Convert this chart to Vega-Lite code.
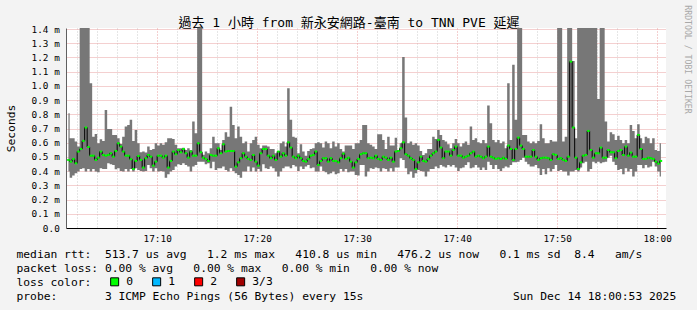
{
"$schema": "https://vega.github.io/schema/vega-lite/v6.json",
"width": 600, "height": 200,
"autosize": "none",
"padding": {"left": 66, "top": 28, "right": 31, "bottom": 82},
"background": "#f3f3f3",
"config": {"view": {"fill": "white", "stroke": null}, "font": "DejaVu Sans Mono"},
"data": {"values": [
{"sec":67.5,"hi":0.808,"lo":0.397,"med":0.479},{"sec":82.5,"hi":0.631,"lo":0.354,"med":0.467},{"sec":97.5,"hi":0.631,"lo":0.369,"med":0.486},{"sec":112.5,"hi":0.608,"lo":0.385,"med":0.455},{"sec":127.5,"hi":0.573,"lo":0.397,"med":0.538},{"sec":142.5,"hi":2.0,"lo":0.415,"med":0.556},{"sec":157.5,"hi":2.0,"lo":0.42,"med":0.613},{"sec":172.5,"hi":2.0,"lo":0.397,"med":0.707},{"sec":187.5,"hi":2.0,"lo":0.415,"med":0.57},{"sec":202.5,"hi":1.019,"lo":0.397,"med":0.509},
{"sec":217.5,"hi":0.643,"lo":0.415,"med":0.509},{"sec":232.5,"hi":0.662,"lo":0.397,"med":0.479},{"sec":247.5,"hi":0.596,"lo":0.392,"med":0.495},{"sec":262.5,"hi":0.624,"lo":0.42,"med":0.538},{"sec":277.5,"hi":0.613,"lo":0.415,"med":0.514},{"sec":292.5,"hi":0.831,"lo":0.415,"med":0.509},{"sec":307.5,"hi":0.697,"lo":0.455,"med":0.514},{"sec":322.5,"hi":0.697,"lo":0.448,"med":0.526},{"sec":337.5,"hi":0.655,"lo":0.444,"med":0.502},{"sec":352.5,"hi":0.655,"lo":0.413,"med":0.542},
{"sec":367.5,"hi":0.631,"lo":0.42,"med":0.596},{"sec":382.5,"hi":0.592,"lo":0.401,"med":0.573},{"sec":397.5,"hi":0.643,"lo":0.397,"med":0.538},{"sec":412.5,"hi":0.714,"lo":0.415,"med":0.509},{"sec":427.5,"hi":0.725,"lo":0.397,"med":0.509},{"sec":442.5,"hi":0.761,"lo":0.415,"med":0.484},{"sec":457.5,"hi":0.613,"lo":0.397,"med":0.415},{"sec":472.5,"hi":0.69,"lo":0.42,"med":0.472},{"sec":487.5,"hi":0.596,"lo":0.408,"med":0.507},{"sec":502.5,"hi":0.533,"lo":0.401,"med":0.479},
{"sec":517.5,"hi":0.538,"lo":0.397,"med":0.425},{"sec":532.5,"hi":0.531,"lo":0.401,"med":0.491},{"sec":547.5,"hi":0.573,"lo":0.444,"med":0.514},{"sec":562.5,"hi":0.549,"lo":0.42,"med":0.502},{"sec":577.5,"hi":0.556,"lo":0.397,"med":0.439},{"sec":592.5,"hi":0.596,"lo":0.42,"med":0.467},{"sec":607.5,"hi":0.58,"lo":0.397,"med":0.509},{"sec":622.5,"hi":0.596,"lo":0.401,"med":0.509},{"sec":637.5,"hi":0.585,"lo":0.397,"med":0.495},{"sec":652.5,"hi":0.603,"lo":0.354,"med":0.509},
{"sec":667.5,"hi":0.631,"lo":0.378,"med":0.425},{"sec":682.5,"hi":0.631,"lo":0.397,"med":0.472},{"sec":697.5,"hi":0.627,"lo":0.408,"med":0.538},{"sec":712.5,"hi":0.585,"lo":0.432,"med":0.519},{"sec":727.5,"hi":0.561,"lo":0.448,"med":0.549},{"sec":742.5,"hi":0.561,"lo":0.444,"med":0.533},{"sec":757.5,"hi":0.565,"lo":0.455,"med":0.556},{"sec":772.5,"hi":0.549,"lo":0.444,"med":0.526},{"sec":787.5,"hi":0.561,"lo":0.432,"med":0.495},{"sec":802.5,"hi":0.549,"lo":0.397,"med":0.538},
{"sec":817.5,"hi":0.749,"lo":0.432,"med":0.509},{"sec":832.5,"hi":0.667,"lo":0.444,"med":0.509},{"sec":847.5,"hi":2.0,"lo":0.467,"med":0.596},{"sec":862.5,"hi":2.0,"lo":0.467,"med":0.533},{"sec":877.5,"hi":0.515,"lo":0.467,"med":0.495},{"sec":892.5,"hi":0.538,"lo":0.448,"med":0.486},{"sec":907.5,"hi":0.526,"lo":0.455,"med":0.472},{"sec":922.5,"hi":0.561,"lo":0.42,"med":0.514},{"sec":937.5,"hi":0.643,"lo":0.467,"med":0.509},{"sec":952.5,"hi":0.596,"lo":0.408,"med":0.509},
{"sec":967.5,"hi":0.596,"lo":0.42,"med":0.561},{"sec":982.5,"hi":0.549,"lo":0.42,"med":0.526},{"sec":997.5,"hi":0.62,"lo":0.432,"med":0.589},{"sec":1012.5,"hi":0.674,"lo":0.408,"med":0.538},{"sec":1027.5,"hi":0.643,"lo":0.397,"med":0.542},{"sec":1042.5,"hi":0.854,"lo":0.42,"med":0.542},{"sec":1057.5,"hi":0.725,"lo":0.401,"med":0.542},{"sec":1072.5,"hi":0.631,"lo":0.385,"med":0.432},{"sec":1087.5,"hi":0.714,"lo":0.373,"med":0.462},{"sec":1102.5,"hi":0.643,"lo":0.354,"med":0.491},
{"sec":1117.5,"hi":0.596,"lo":0.397,"med":0.526},{"sec":1132.5,"hi":0.608,"lo":0.397,"med":0.502},{"sec":1147.5,"hi":0.538,"lo":0.432,"med":0.486},{"sec":1162.5,"hi":0.596,"lo":0.397,"med":0.479},{"sec":1177.5,"hi":0.62,"lo":0.425,"med":0.514},{"sec":1192.5,"hi":0.643,"lo":0.397,"med":0.467},{"sec":1207.5,"hi":0.585,"lo":0.415,"med":0.439},{"sec":1222.5,"hi":0.561,"lo":0.397,"med":0.526},{"sec":1237.5,"hi":0.58,"lo":0.448,"med":0.556},{"sec":1252.5,"hi":0.58,"lo":0.42,"med":0.556},
{"sec":1267.5,"hi":0.573,"lo":0.415,"med":0.509},{"sec":1282.5,"hi":0.556,"lo":0.432,"med":0.491},{"sec":1297.5,"hi":0.556,"lo":0.42,"med":0.509},{"sec":1312.5,"hi":0.526,"lo":0.397,"med":0.479},{"sec":1327.5,"hi":0.542,"lo":0.362,"med":0.538},{"sec":1342.5,"hi":0.596,"lo":0.397,"med":0.502},{"sec":1357.5,"hi":0.608,"lo":0.42,"med":0.526},{"sec":1372.5,"hi":0.573,"lo":0.432,"med":0.509},{"sec":1387.5,"hi":0.984,"lo":0.432,"med":0.603},{"sec":1402.5,"hi":0.761,"lo":0.42,"med":0.566},
{"sec":1417.5,"hi":0.643,"lo":0.444,"med":0.502},{"sec":1432.5,"hi":0.636,"lo":0.432,"med":0.491},{"sec":1447.5,"hi":0.526,"lo":0.401,"med":0.509},{"sec":1462.5,"hi":0.589,"lo":0.432,"med":0.491},{"sec":1477.5,"hi":0.538,"lo":0.415,"med":0.472},{"sec":1492.5,"hi":0.509,"lo":0.432,"med":0.467},{"sec":1507.5,"hi":0.542,"lo":0.444,"med":0.486},{"sec":1522.5,"hi":0.556,"lo":0.42,"med":0.509},{"sec":1537.5,"hi":0.561,"lo":0.425,"med":0.514},{"sec":1552.5,"hi":0.596,"lo":0.397,"med":0.538},
{"sec":1567.5,"hi":0.603,"lo":0.397,"med":0.444},{"sec":1582.5,"hi":0.596,"lo":0.432,"med":0.472},{"sec":1597.5,"hi":0.566,"lo":0.401,"med":0.491},{"sec":1612.5,"hi":0.608,"lo":0.392,"med":0.491},{"sec":1627.5,"hi":0.596,"lo":0.378,"med":0.467},{"sec":1642.5,"hi":0.561,"lo":0.385,"med":0.491},{"sec":1657.5,"hi":0.608,"lo":0.397,"med":0.472},{"sec":1672.5,"hi":0.573,"lo":0.378,"med":0.472},{"sec":1687.5,"hi":0.596,"lo":0.385,"med":0.462},{"sec":1702.5,"hi":0.556,"lo":0.415,"med":0.491},
{"sec":1717.5,"hi":0.538,"lo":0.397,"med":0.523},{"sec":1732.5,"hi":0.58,"lo":0.415,"med":0.486},{"sec":1747.5,"hi":0.58,"lo":0.392,"med":0.495},{"sec":1762.5,"hi":0.58,"lo":0.397,"med":0.467},{"sec":1777.5,"hi":0.556,"lo":0.397,"med":0.425},{"sec":1792.5,"hi":0.596,"lo":0.373,"med":0.462},{"sec":1807.5,"hi":0.596,"lo":0.369,"med":0.486},{"sec":1822.5,"hi":0.62,"lo":0.444,"med":0.519},{"sec":1837.5,"hi":0.725,"lo":0.444,"med":0.526},{"sec":1852.5,"hi":0.725,"lo":0.362,"med":0.526},
{"sec":1867.5,"hi":0.596,"lo":0.397,"med":0.491},{"sec":1882.5,"hi":0.585,"lo":0.42,"med":0.495},{"sec":1897.5,"hi":0.573,"lo":0.415,"med":0.491},{"sec":1912.5,"hi":0.556,"lo":0.425,"med":0.509},{"sec":1927.5,"hi":0.66,"lo":0.42,"med":0.486},{"sec":1942.5,"hi":0.66,"lo":0.397,"med":0.479},{"sec":1957.5,"hi":0.62,"lo":0.42,"med":0.502},{"sec":1972.5,"hi":0.556,"lo":0.415,"med":0.495},{"sec":1987.5,"hi":0.643,"lo":0.397,"med":0.479},{"sec":2002.5,"hi":0.58,"lo":0.42,"med":0.495},
{"sec":2017.5,"hi":0.58,"lo":0.397,"med":0.467},{"sec":2032.5,"hi":0.636,"lo":0.425,"med":0.538},{"sec":2047.5,"hi":0.549,"lo":0.425,"med":0.542},{"sec":2062.5,"hi":0.596,"lo":0.491,"med":0.561},{"sec":2077.5,"hi":1.204,"lo":0.479,"med":0.603},{"sec":2092.5,"hi":0.777,"lo":0.42,"med":0.519},{"sec":2107.5,"hi":0.596,"lo":0.378,"med":0.509},{"sec":2122.5,"hi":0.608,"lo":0.397,"med":0.491},{"sec":2137.5,"hi":0.585,"lo":0.354,"med":0.479},{"sec":2152.5,"hi":0.596,"lo":0.385,"med":0.415},
{"sec":2167.5,"hi":0.58,"lo":0.408,"med":0.462},{"sec":2182.5,"hi":0.542,"lo":0.401,"med":0.502},{"sec":2197.5,"hi":0.514,"lo":0.397,"med":0.472},{"sec":2212.5,"hi":0.526,"lo":0.362,"med":0.467},{"sec":2227.5,"hi":0.556,"lo":0.397,"med":0.486},{"sec":2242.5,"hi":0.556,"lo":0.415,"med":0.509},{"sec":2257.5,"hi":0.643,"lo":0.415,"med":0.526},{"sec":2272.5,"hi":0.627,"lo":0.432,"med":0.538},{"sec":2287.5,"hi":0.69,"lo":0.42,"med":0.62},{"sec":2302.5,"hi":0.655,"lo":0.444,"med":0.566},
{"sec":2317.5,"hi":0.62,"lo":0.432,"med":0.491},{"sec":2332.5,"hi":0.608,"lo":0.425,"med":0.538},{"sec":2347.5,"hi":0.589,"lo":0.444,"med":0.538},{"sec":2362.5,"hi":0.561,"lo":0.432,"med":0.509},{"sec":2377.5,"hi":0.596,"lo":0.444,"med":0.549},{"sec":2392.5,"hi":0.627,"lo":0.425,"med":0.573},{"sec":2407.5,"hi":0.596,"lo":0.401,"med":0.509},{"sec":2422.5,"hi":0.573,"lo":0.42,"med":0.509},{"sec":2437.5,"hi":0.596,"lo":0.425,"med":0.495},{"sec":2452.5,"hi":0.608,"lo":0.444,"med":0.502},
{"sec":2467.5,"hi":0.585,"lo":0.462,"med":0.509},{"sec":2482.5,"hi":0.714,"lo":0.42,"med":0.526},{"sec":2497.5,"hi":0.62,"lo":0.425,"med":0.538},{"sec":2512.5,"hi":0.631,"lo":0.444,"med":0.502},{"sec":2527.5,"hi":0.603,"lo":0.425,"med":0.509},{"sec":2542.5,"hi":0.596,"lo":0.408,"med":0.502},{"sec":2557.5,"hi":0.62,"lo":0.425,"med":0.491},{"sec":2572.5,"hi":0.596,"lo":0.408,"med":0.502},{"sec":2587.5,"hi":0.862,"lo":0.467,"med":0.573},{"sec":2602.5,"hi":0.737,"lo":0.444,"med":0.502},
{"sec":2617.5,"hi":0.62,"lo":0.415,"med":0.495},{"sec":2632.5,"hi":0.603,"lo":0.444,"med":0.486},{"sec":2647.5,"hi":0.62,"lo":0.415,"med":0.491},{"sec":2662.5,"hi":0.596,"lo":0.401,"med":0.486},{"sec":2677.5,"hi":0.608,"lo":0.42,"med":0.495},{"sec":2692.5,"hi":0.561,"lo":0.432,"med":0.486},{"sec":2707.5,"hi":1.019,"lo":0.425,"med":0.58},{"sec":2722.5,"hi":0.62,"lo":0.444,"med":0.556},{"sec":2737.5,"hi":1.148,"lo":0.462,"med":0.479},{"sec":2752.5,"hi":0.761,"lo":0.462,"med":0.556},
{"sec":2767.5,"hi":2.0,"lo":0.467,"med":0.636},{"sec":2782.5,"hi":2.0,"lo":0.479,"med":0.58},{"sec":2797.5,"hi":0.655,"lo":0.495,"med":0.556},{"sec":2812.5,"hi":0.655,"lo":0.467,"med":0.502},{"sec":2827.5,"hi":0.608,"lo":0.448,"med":0.502},{"sec":2842.5,"hi":0.596,"lo":0.432,"med":0.502},{"sec":2857.5,"hi":0.608,"lo":0.432,"med":0.549},{"sec":2872.5,"hi":0.596,"lo":0.444,"med":0.502},{"sec":2887.5,"hi":0.613,"lo":0.42,"med":0.479},{"sec":2902.5,"hi":0.73,"lo":0.373,"med":0.491},
{"sec":2917.5,"hi":0.631,"lo":0.415,"med":0.495},{"sec":2932.5,"hi":0.596,"lo":0.378,"med":0.495},{"sec":2947.5,"hi":0.596,"lo":0.42,"med":0.491},{"sec":2962.5,"hi":0.62,"lo":0.397,"med":0.479},{"sec":2977.5,"hi":0.608,"lo":0.415,"med":0.519},{"sec":2992.5,"hi":0.608,"lo":0.444,"med":0.514},{"sec":3007.5,"hi":2.0,"lo":0.401,"med":0.486},{"sec":3022.5,"hi":2.0,"lo":0.408,"med":0.491},{"sec":3037.5,"hi":0.608,"lo":0.397,"med":0.479},{"sec":3052.5,"hi":0.643,"lo":0.397,"med":0.472},
{"sec":3067.5,"hi":2.0,"lo":0.369,"med":0.502},{"sec":3082.5,"hi":2.0,"lo":0.397,"med":1.171},{"sec":3097.5,"hi":1.176,"lo":0.397,"med":0.707},{"sec":3112.5,"hi":0.631,"lo":0.408,"med":0.495},{"sec":3127.5,"hi":2.0,"lo":0.397,"med":0.415},{"sec":3142.5,"hi":2.0,"lo":0.425,"med":0.462},{"sec":3157.5,"hi":2.0,"lo":0.455,"med":0.509},{"sec":3172.5,"hi":2.0,"lo":0.467,"med":0.514},{"sec":3187.5,"hi":2.0,"lo":0.397,"med":0.683},{"sec":3202.5,"hi":2.0,"lo":0.415,"med":0.549},
{"sec":3217.5,"hi":2.0,"lo":0.467,"med":0.495},{"sec":3232.5,"hi":2.0,"lo":0.455,"med":0.526},{"sec":3247.5,"hi":0.908,"lo":0.467,"med":0.526},{"sec":3262.5,"hi":2.0,"lo":0.455,"med":0.566},{"sec":3277.5,"hi":2.0,"lo":0.462,"med":0.495},{"sec":3292.5,"hi":0.749,"lo":0.467,"med":0.495},{"sec":3307.5,"hi":0.608,"lo":0.495,"med":0.549},{"sec":3322.5,"hi":0.674,"lo":0.509,"med":0.533},{"sec":3337.5,"hi":0.66,"lo":0.467,"med":0.533},{"sec":3352.5,"hi":0.62,"lo":0.444,"med":0.491},
{"sec":3367.5,"hi":0.65,"lo":0.408,"med":0.542},{"sec":3382.5,"hi":0.62,"lo":0.415,"med":0.549},{"sec":3397.5,"hi":0.596,"lo":0.378,"med":0.514},{"sec":3412.5,"hi":0.62,"lo":0.42,"med":0.573},{"sec":3427.5,"hi":0.596,"lo":0.397,"med":0.509},{"sec":3442.5,"hi":0.725,"lo":0.415,"med":0.531},{"sec":3457.5,"hi":0.683,"lo":0.362,"med":0.502},{"sec":3472.5,"hi":0.631,"lo":0.397,"med":0.502},{"sec":3487.5,"hi":0.73,"lo":0.444,"med":0.655},{"sec":3502.5,"hi":0.631,"lo":0.444,"med":0.556},
{"sec":3517.5,"hi":0.596,"lo":0.42,"med":0.486},{"sec":3532.5,"hi":0.643,"lo":0.444,"med":0.486},{"sec":3547.5,"hi":0.631,"lo":0.425,"med":0.495},{"sec":3562.5,"hi":0.596,"lo":0.432,"med":0.491},{"sec":3577.5,"hi":0.631,"lo":0.467,"med":0.486},{"sec":3592.5,"hi":0.549,"lo":0.432,"med":0.467},{"sec":3607.5,"hi":0.542,"lo":0.397,"med":0.453},{"sec":3622.5,"hi":0.596,"lo":0.362,"med":0.472}
]},
"layer": [
 {
  "mark": {"type": "area", "interpolate": "step", "color": "#777777", "clip": true},
  "encoding": {
   "x": {"field": "sec", "type": "quantitative", "scale": {"domain": [53, 3653], "nice": false, "zero": false},
    "axis": {
     "values": [120,240,360,480,600,720,840,960,1080,1200,1320,1440,1560,1680,1800,1920,2040,2160,2280,2400,2520,2640,2760,2880,3000,3120,3240,3360,3480,3600],
     "labelExpr": "datum.value % 600 == 0 ? (datum.value == 3600 ? '18:00' : '17:' + format(datum.value / 60, '02d')) : ''",
     "gridColor": {"condition": {"test": "datum.value % 600 == 0", "value": "#e8a0a0"}, "value": "#cccccc"},
     "labelFont": "DejaVu Sans Mono", "labelFontSize": 9.4, "labelColor": "black", "labelOverlap": false, "labelFlush": false,
     "labelBaseline": "alphabetic", "labelPadding": 13.9, "ticks": false,
     "grid": true, "gridDash": [1, 2], "gridWidth": 1,
     "domainColor": "black", "domainWidth": 1,
     "title": ["median\u00a0rtt:\u00a0\u00a0513.7\u00a0us\u00a0avg\u00a0\u00a0\u00a01.2\u00a0ms\u00a0max\u00a0\u00a0\u00a0410.8\u00a0us\u00a0min\u00a0\u00a0\u00a0476.2\u00a0us\u00a0now\u00a0\u00a0\u00a00.1\u00a0ms\u00a0sd\u00a0\u00a08.4\u00a0\u00a0\u00a0am/s", "packet\u00a0loss:\u00a00.00\u00a0%\u00a0avg\u00a0\u00a0\u00a00.00\u00a0%\u00a0max\u00a0\u00a0\u00a00.00\u00a0%\u00a0min\u00a0\u00a0\u00a00.00\u00a0%\u00a0now", "loss\u00a0color:", "probe:\u00a0\u00a0\u00a0\u00a0\u00a0\u00a0\u00a03\u00a0ICMP\u00a0Echo\u00a0Pings\u00a0(56\u00a0Bytes)\u00a0every\u00a015s\u00a0\u00a0\u00a0\u00a0\u00a0\u00a0\u00a0\u00a0\u00a0\u00a0\u00a0\u00a0\u00a0\u00a0\u00a0\u00a0\u00a0\u00a0\u00a0\u00a0\u00a0\u00a0Sun\u00a0Dec\u00a014\u00a018:00:53\u00a02025"],
     "titleX": -50, "titleY": 29.3, "titleAlign": "left", "titleAnchor": "start", "titleBaseline": "alphabetic", "titleAngle": 0,
     "titleFont": "DejaVu Sans Mono", "titleFontSize": 11.3, "titleFontWeight": "normal", "titleLineHeight": 14.1, "titleColor": "black"
    }},
   "y": {"field": "hi", "type": "quantitative", "scale": {"domain": [0, 1.4075], "nice": false, "zero": true},
    "axis": {
     "values": [0,0.1,0.2,0.3,0.4,0.5,0.6,0.7,0.8,0.9,1.0,1.1,1.2,1.3,1.4],
     "labelExpr": "datum.value == 0 ? '0.0' : format(datum.value, '.1f') + ' m'",
     "labelFont": "DejaVu Sans Mono", "labelFontSize": 9.4, "labelColor": "black", "labelOverlap": false, "labelFlush": false,
     "ticks": false, "labelPadding": 6.7,
     "grid": true, "gridColor": "#e8a0a0", "gridDash": [1, 1], "gridWidth": 1,
     "domainColor": "#606060", "domainWidth": 1,
     "title": "Seconds", "titleX": -52, "titleY": 100, "titleAngle": 270, "titleAlign": "center", "titleBaseline": "alphabetic",
     "titleFont": "DejaVu Sans Mono", "titleFontSize": 11.3, "titleFontWeight": "normal", "titleColor": "black"
    }},
   "y2": {"field": "lo"}
  }
 },
 {
  "mark": {"type": "line", "interpolate": "step", "color": "black", "strokeWidth": 1, "clip": true},
  "encoding": {
   "x": {"field": "sec", "type": "quantitative",
    "axis": {"orient": "top", "labels": false, "ticks": false, "domain": false, "grid": false,
     "title": "過去 1 小時 from 新永安網路-臺南 to TNN PVE 延遲",
     "titleX": 282.5, "titleY": -1.3, "titleAlign": "center", "titleAnchor": "middle", "titleBaseline": "alphabetic", "titleAngle": 0,
     "titleFont": "DejaVu Sans Mono, Noto Sans CJK TC", "titleFontSize": 13, "titleFontWeight": "normal", "titleColor": "black"}},
   "y": {"field": "med", "type": "quantitative",
    "axis": {"orient": "right", "labels": false, "ticks": false, "domain": false, "grid": false,
     "title": "RRDTOOL / TOBI OETIKER",
     "titleX": 18, "titleY": 31, "titleAngle": 90, "titleAlign": "center", "titleBaseline": "alphabetic",
     "titleFont": "DejaVu Sans Mono", "titleFontSize": 8.2, "titleFontWeight": "normal", "titleColor": "#a8a8a8"}}
  }
 },
 {
  "mark": {"type": "tick", "orient": "horizontal", "size": 2.5, "thickness": 2, "clip": true, "opacity": 1},
  "encoding": {
   "x": {"field": "sec", "type": "quantitative", "axis": null},
   "y": {"field": "med", "type": "quantitative", "axis": null},
   "color": {"datum": "0", "type": "nominal",
    "scale": {"domain": ["0", "1", "2", "3/3"], "range": ["#00ff00", "#00b8ff", "#ff0000", "#a00000"]},
    "legend": {"orient": "none", "legendX": 43, "legendY": 248, "direction": "horizontal", "title": null,
     "symbolType": "square", "symbolSize": 64, "symbolStrokeColor": "black", "symbolStrokeWidth": 1, "symbolOpacity": 1,
     "labelFont": "DejaVu Sans Mono", "labelFontSize": 11.3, "labelColor": "black", "labelOffset": 6, "columnPadding": 16, "padding": 0}}
  }
 }
],
"resolve": {"axis": {"x": "independent", "y": "independent"}}
}
